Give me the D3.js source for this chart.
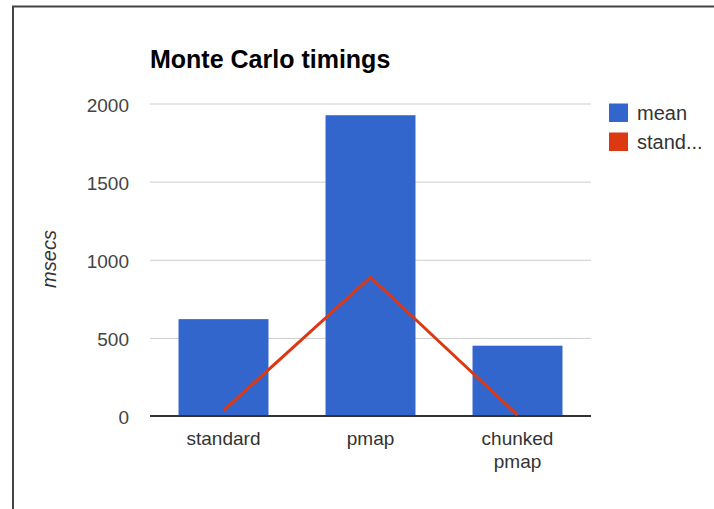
<!DOCTYPE html>
<html>
<head>
<meta charset="utf-8">
<script src="https://cdn.jsdelivr.net/npm/d3@7"></script>
<style>
  html, body { margin: 0; padding: 0; background: #fff; }
  svg { display: block; font-family: "Liberation Sans", Arial, sans-serif; }
</style>
</head>
<body>
<svg id="chart" width="714" height="509"></svg>
<script>
// ---- data ----
const categories = ["standard", "pmap", "chunked pmap"];
const meanValues = [620, 1925, 450];
const stdValues = [35, 888, 6];
const yTicks = [0, 500, 1000, 1500, 2000];
const seriesNames = ["mean", "stand..."];
const seriesColors = ["#3366cc", "#dc3912"];
const chartTitle = "Monte Carlo timings";
const yAxisTitle = "msecs";

// ---- layout ----
const W = 714, H = 509;
const plot = { left: 150, right: 591, top: 103.5, bottom: 416 };

const svg = d3.select("#chart");

// frame (top and left border of the screenshot)
svg.append("path")
  .attr("d", `M13,${H} L13,6.5 L${W},6.5`)
  .attr("fill", "none")
  .attr("stroke", "#444")
  .attr("stroke-width", 2);

const x = d3.scaleBand()
  .domain(categories)
  .range([plot.left, plot.right])
  .paddingInner(0.388)
  .paddingOuter(0.194);

const y = d3.scaleLinear()
  .domain([0, 2000])
  .range([plot.bottom, plot.top]);

// gridlines + y tick labels
const yAxis = d3.axisLeft(y)
  .tickValues(yTicks)
  .tickSize(-(plot.right - plot.left))
  .tickPadding(21)
  .tickFormat(d3.format("d"));

const gy = svg.append("g")
  .attr("transform", `translate(${plot.left},0)`)
  .call(yAxis);
gy.select(".domain").remove();
gy.selectAll(".tick line").attr("stroke", "#cccccc").attr("stroke-width", 1);
gy.selectAll(".tick text")
  .attr("fill", "#444")
  .attr("font-size", 19)
  .attr("font-family", "Liberation Sans, Arial, sans-serif")
  .attr("dy", "0.4em");

// bars
svg.append("g").selectAll("rect")
  .data(categories)
  .join("rect")
  .attr("x", d => x(d))
  .attr("width", x.bandwidth())
  .attr("y", (d, i) => y(meanValues[i]))
  .attr("height", (d, i) => y(0) - y(meanValues[i]))
  .attr("fill", seriesColors[0]);

// baseline
svg.append("line")
  .attr("x1", plot.left).attr("x2", plot.right)
  .attr("y1", y(0)).attr("y2", y(0))
  .attr("stroke", "#333").attr("stroke-width", 2);

// line series
const line = d3.line()
  .x((d, i) => x(categories[i]) + x.bandwidth() / 2)
  .y(d => y(d));
svg.append("path")
  .datum(stdValues)
  .attr("d", line)
  .attr("fill", "none")
  .attr("stroke", seriesColors[1])
  .attr("stroke-width", 3);

// x labels
const xl = svg.append("g").selectAll("text")
  .data(categories)
  .join("text")
  .attr("x", d => x(d) + x.bandwidth() / 2)
  .attr("y", 445)
  .attr("text-anchor", "middle")
  .attr("font-size", 19)
  .attr("fill", "#333");
xl.each(function(d) {
  const words = d.split(" ");
  const t = d3.select(this);
  words.forEach((w, i) => {
    t.append("tspan")
      .attr("x", x(d) + x.bandwidth() / 2)
      .attr("dy", i === 0 ? 0 : 23)
      .text(w);
  });
});

// title
svg.append("text")
  .attr("x", 150).attr("y", 68)
  .attr("font-size", 25)
  .attr("font-weight", "bold")
  .attr("fill", "#000")
  .text(chartTitle);

// y axis title
svg.append("text")
  .attr("transform", "translate(55.5,259) rotate(-90)")
  .attr("text-anchor", "middle")
  .attr("font-size", 20)
  .attr("font-style", "italic")
  .attr("fill", "#333")
  .text(yAxisTitle);

// legend
const lg = svg.append("g").selectAll("g")
  .data(seriesNames)
  .join("g")
  .attr("transform", (d, i) => `translate(609,${103.5 + i * 29})`);
lg.append("rect")
  .attr("width", 19).attr("height", 18.5)
  .attr("fill", (d, i) => seriesColors[i]);
lg.append("text")
  .attr("x", 28).attr("y", 16.5)
  .attr("font-size", 20)
  .attr("fill", "#333")
  .text(d => d);
</script>
</body>
</html>
